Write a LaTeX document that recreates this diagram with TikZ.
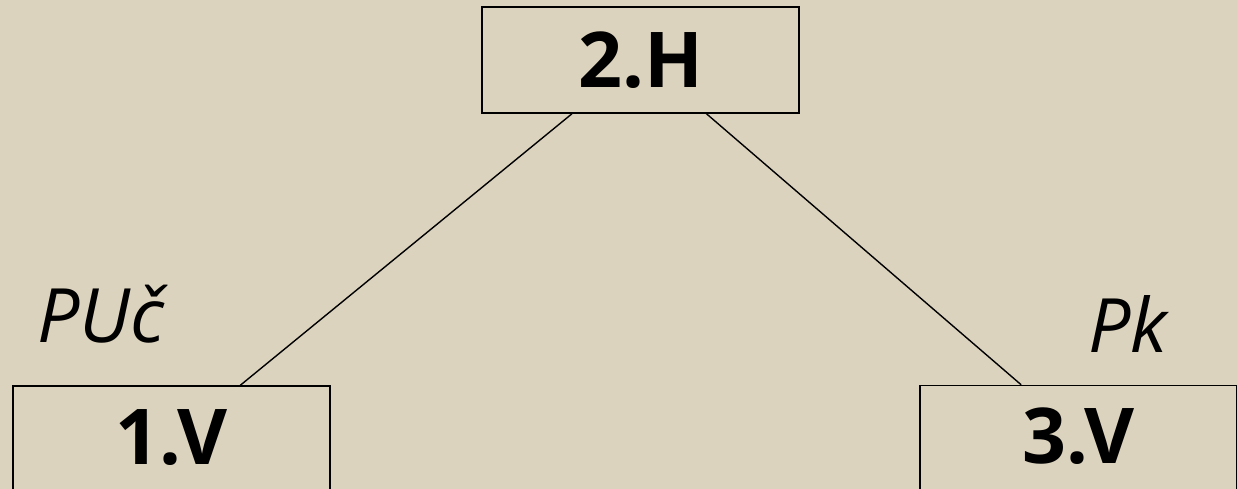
\documentclass[tikz,border=0pt]{standalone}
\usepackage{fontspec}
\setmainfont{Open Sans}
\usetikzlibrary{calc}
\definecolor{bgbeige}{RGB}{220,211,190}
\tikzset{
  levelbox/.style={draw=black, line width=1.4pt, rectangle, inner sep=0pt,
    minimum width=317pt, font=\fontsize{77}{80}\selectfont\bfseries,
    text height=55pt},
  rolelabel/.style={inner sep=0pt, anchor=base, font=\fontsize{75}{80}\selectfont\itshape},
  link/.style={draw=black, line width=1.4pt}
}
\begin{document}
\begin{tikzpicture}[x=1pt,y=-1pt]
\fill[bgbeige] (0,0) rectangle (1237,489);
\useasboundingbox (0,0) rectangle (1237,489);
\clip (0,0) rectangle (1237,489);
\node[levelbox, minimum height=106pt, text depth=0pt] (h) at (640.5,60) {2.H};
\node[levelbox, minimum height=109pt, text depth=8pt] (v1) at (171.5,440.5) {1.V};
\node[levelbox, minimum height=109pt, text depth=8pt] (v3) at (1078.5,440) {3.V};
\node[rolelabel] (puc) at (101,342) {PUč};
\node[rolelabel] (pk) at (1128,352) {Pk};
\draw[link] ($(h.south west)!0.285!(h.south east)$) -- ($(v1.north west)!0.716!(v1.north east)$);
\draw[link] ($(h.south west)!0.707!(h.south east)$) -- ($(v3.north west)!0.32!(v3.north east)$);
\end{tikzpicture}
\end{document}
